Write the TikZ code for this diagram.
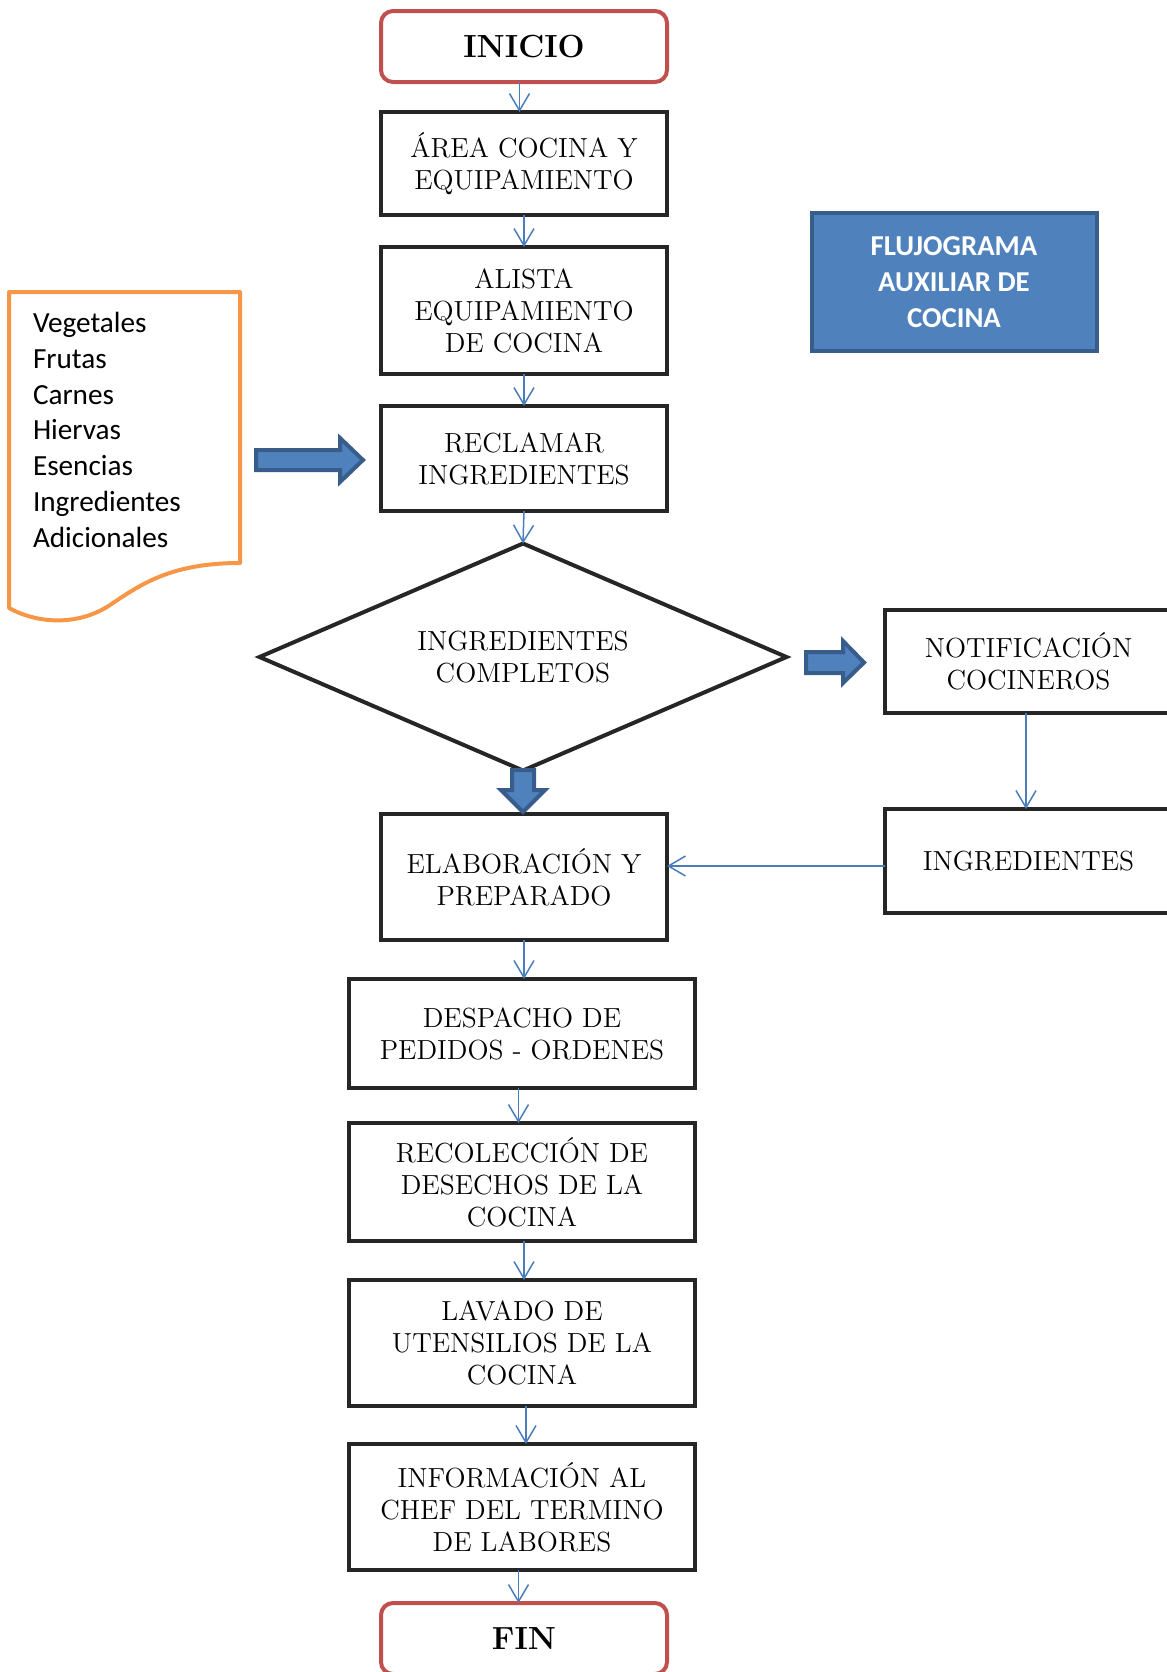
\documentclass[tikz,border=0pt]{standalone}
\usepackage{fontspec}
\newfontfamily\calibri{Carlito}
\usetikzlibrary{arrows.meta,shapes.geometric}
\definecolor{linkblue}{HTML}{4A7EBB}
\definecolor{fillblue}{HTML}{4F81BD}
\definecolor{edgeblue}{HTML}{385D8A}
\definecolor{termred}{HTML}{C0504D}
\definecolor{docorange}{HTML}{F79646}
\definecolor{boxline}{HTML}{262626}
\begin{document}
\begin{tikzpicture}[x=0.5pt,y=-0.5pt,
  every node/.style={inner sep=0pt, outer sep=0pt},
  txt/.style={font=\fontsize{13.8}{16}\selectfont, align=center},
  stepbox/.style={txt, draw=boxline, line width=2pt, rectangle},
  narrowbox/.style={stepbox, minimum width=143pt},
  widebox/.style={stepbox, minimum width=173pt},
  term/.style={draw=termred, line width=2pt, rounded corners=6pt,
    minimum width=143pt, minimum height=35.5pt,
    font=\fontsize{16}{20}\selectfont\bfseries},
  decision/.style={txt, draw=boxline, line width=2pt, diamond, shape aspect=2.32,
    minimum width=263.5pt, minimum height=113.5pt},
  conn/.style={draw=linkblue, line width=0.75pt,
    -{Straight Barb[length=8.5pt,width=10pt]}},
  bigarrow/.style={fill=fillblue, draw=edgeblue, line width=2pt, line join=miter}
]
\useasboundingbox (0,0) rectangle (1167,1672);

% main column
\node[term] (inicio) at (524,46.5) {INICIO};
\node[narrowbox, minimum height=51.5pt] (area) at (524,163.5) {ÁREA COCINA Y\\EQUIPAMIENTO};
\node[narrowbox, minimum height=63.5pt] (alista) at (524,310.5) {ALISTA\\EQUIPAMIENTO\\DE COCINA};
\node[narrowbox, minimum height=52.5pt] (reclamar) at (524,458.5) {RECLAMAR\\INGREDIENTES};
\node[decision] (completos) at (523,657) {INGREDIENTES\\COMPLETOS};
\node[narrowbox, minimum height=63pt] (elab) at (524,877) {ELABORACIÓN Y\\PREPARADO};
\node[widebox, minimum height=54.5pt] (despacho) at (522,1033.5) {DESPACHO DE\\PEDIDOS - ORDENES};
\node[widebox, minimum height=59pt] (recoleccion) at (522,1182) {RECOLECCIÓN DE\\DESECHOS DE LA\\COCINA};
\node[widebox, minimum height=63pt] (lavado) at (522,1343) {LAVADO DE\\UTENSILIOS DE LA\\COCINA};
\node[widebox, minimum height=63pt] (informacion) at (522,1507) {INFORMACIÓN AL\\CHEF DEL TERMINO\\DE LABORES};
\node[term] (fin) at (524,1638.5) {FIN};

% side branch
\node[stepbox, minimum width=143.5pt, minimum height=51.5pt] (notif) at (1028.5,661.5) {NOTIFICACIÓN\\COCINEROS};
\node[stepbox, minimum width=143.5pt, minimum height=52pt] (ingr) at (1028.5,861) {INGREDIENTES};

% title
\node[fill=fillblue, draw=edgeblue, line width=2pt, minimum width=142.5pt, minimum height=69pt,
  text=white, align=center, font=\calibri\bfseries\fontsize{14.4}{18}\selectfont] (title) at (954,282)
  {FLUJOGRAMA\\AUXILIAR DE\\COCINA};

% ingredient list document
\draw[docorange, line width=2pt, line join=round]
  (9,292) -- (240,292) -- (240,563)
  .. controls (170,563) and (140,585) .. (110,605)
  .. controls (80,625) and (40,625) .. (9,608) -- cycle;
\node[anchor=base west, align=left, font=\calibri\fontsize{14.6}{17.85}\selectfont] (lista) at (33,547)
  {Vegetales\\Frutas\\Carnes\\Hiervas\\Esencias\\Ingredientes\\Adicionales};

% thin connectors
\draw[conn] ([xshift=-2.25pt]inicio.south) -- ([xshift=-2.25pt]area.north);
\draw[conn] (area) -- (alista);
\draw[conn] (alista) -- (reclamar);
\draw[conn] (reclamar.south) -- (completos.north);
\draw[conn] (elab.south) -- ([xshift=1pt]despacho.north);
\draw[conn] ([xshift=-1.75pt]despacho.south) -- ([xshift=-1.75pt]recoleccion.north);
\draw[conn] ([xshift=1pt]recoleccion.south) -- ([xshift=1pt]lavado.north);
\draw[conn] ([xshift=2pt]lavado.south) -- ([xshift=2pt]informacion.north);
\draw[conn] ([xshift=-1.75pt]informacion.south) -- ([xshift=-2.75pt]fin.north);
\draw[conn] ([xshift=-1.25pt]notif.south) -- ([xshift=-1.25pt]ingr.north);
\draw[conn] (ingr.west |- 0,866) -- (elab.east |- 0,866);

% block arrows
\coordinate (inA) at (256,460);
\draw[bigarrow] (inA) ++(0,-10) -- ++(84,0) -- ++(0,-12) -- (363,460)
  -- (340,482) -- ++(0,-12) -- ++(-84,0) -- cycle;
\coordinate (noA) at (806,662.5);
\draw[bigarrow] (noA) ++(0,-10.5) -- ++(37,0) -- ++(0,-11) -- (864,662.5)
  -- (843,683) -- ++(0,-10) -- ++(-37,0) -- cycle;
\coordinate (siA) at (523,770);
\draw[bigarrow] (siA) ++(-11,0) -- ++(0,20) -- ++(-11,0) -- (523,812)
  -- (545,790) -- ++(-11,0) -- ++(0,-20) -- cycle;
\end{tikzpicture}
\end{document}
